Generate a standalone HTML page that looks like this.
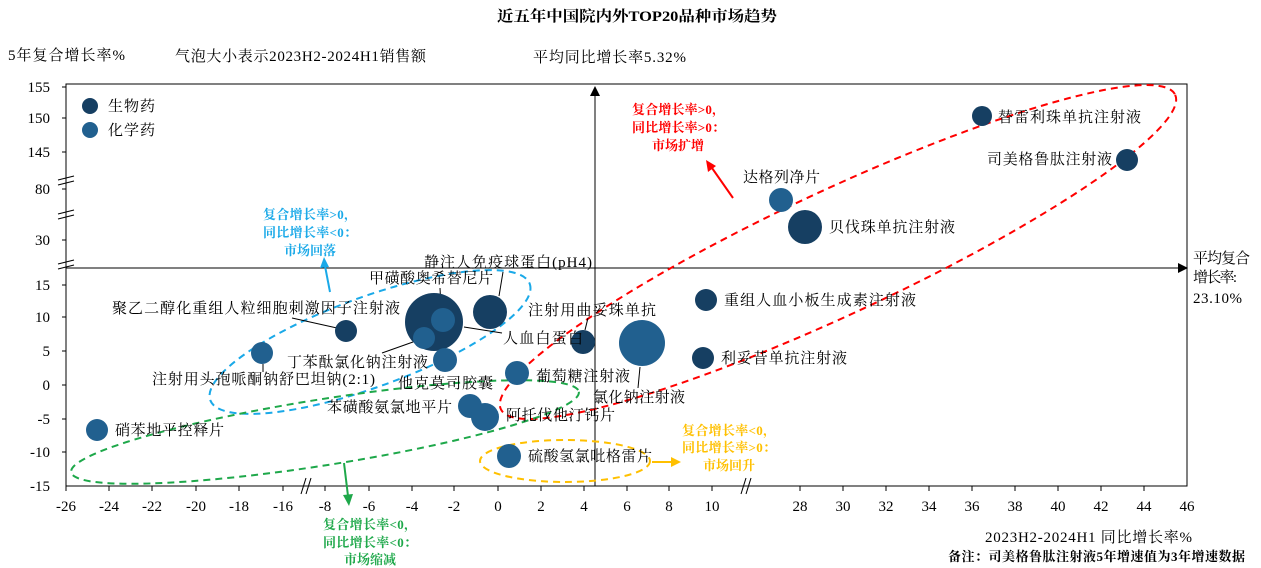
<!DOCTYPE html>
<html><head><meta charset="utf-8"><style>
body{margin:0;background:#fff;}
svg{display:block;font-family:"Liberation Serif","Noto Serif CJK SC",serif;}
.t{font-size:15px;fill:#000;}
.b{font-weight:bold;font-size:13px;}
</style></head><body>
<svg width="1261" height="568" viewBox="0 0 1261 568" xmlns="http://www.w3.org/2000/svg">
<text x="497" y="21" textLength="280" lengthAdjust="spacingAndGlyphs" class="t" font-weight="bold">近五年中国院内外TOP20品种市场趋势</text>
<text x="8" y="60" class="t" textLength="117">5年复合增长率%</text>
<text x="175" y="61" class="t" textLength="251">气泡大小表示2023H2-2024H1销售额</text>
<text x="533" y="62" class="t" textLength="153">平均同比增长率5.32%</text>

<rect x="66" y="84" width="1121" height="402" fill="none" stroke="#000" stroke-width="1"/>
<line x1="595" y1="486" x2="595" y2="94" stroke="#000"/>
<path d="M590,96L595,86L600,96z" fill="#000"/>
<line x1="66" y1="268" x2="1178" y2="268" stroke="#000"/>
<path d="M1178,263L1188,268L1178,273z" fill="#000"/>

<g class="t" text-anchor="end">
<text x="50" y="92">155</text><text x="50" y="123">150</text><text x="50" y="157">145</text>
<text x="50" y="194">80</text><text x="50" y="245">30</text><text x="50" y="290">15</text>
<text x="50" y="322">10</text><text x="50" y="356">5</text><text x="50" y="390">0</text>
<text x="50" y="424">-5</text><text x="50" y="457">-10</text><text x="50" y="491">-15</text>
</g>
<g stroke="#000">
<line x1="62" y1="87" x2="66" y2="87"/><line x1="62" y1="118" x2="66" y2="118"/><line x1="62" y1="152" x2="66" y2="152"/>
<line x1="62" y1="189" x2="66" y2="189"/><line x1="62" y1="240" x2="66" y2="240"/><line x1="62" y1="285" x2="66" y2="285"/>
<line x1="62" y1="317" x2="66" y2="317"/><line x1="62" y1="351" x2="66" y2="351"/><line x1="62" y1="385" x2="66" y2="385"/>
<line x1="62" y1="419" x2="66" y2="419"/><line x1="62" y1="452" x2="66" y2="452"/>
<line x1="58" y1="180" x2="74" y2="176"/><line x1="58" y1="185" x2="74" y2="181"/>
<line x1="58" y1="214" x2="74" y2="210"/><line x1="58" y1="219" x2="74" y2="215"/>
<line x1="58" y1="264" x2="74" y2="260"/><line x1="58" y1="269" x2="74" y2="265"/>
<line x1="741" y1="494" x2="746" y2="478"/><line x1="746" y1="494" x2="751" y2="478"/>
<line x1="301" y1="494" x2="306" y2="478"/><line x1="306" y1="494" x2="311" y2="478"/>
</g>
<g class="t" text-anchor="middle">
<text x="66" y="511">-26</text><text x="109" y="511">-24</text><text x="152" y="511">-22</text><text x="196" y="511">-20</text>
<text x="239" y="511">-18</text><text x="283" y="511">-16</text><text x="325" y="511">-8</text><text x="369" y="511">-6</text>
<text x="412" y="511">-4</text><text x="454" y="511">-2</text><text x="498" y="511">0</text><text x="541" y="511">2</text>
<text x="584" y="511">4</text><text x="627" y="511">6</text><text x="669" y="511">8</text><text x="712" y="511">10</text>
<text x="800" y="511">28</text><text x="843" y="511">30</text><text x="886" y="511">32</text><text x="929" y="511">34</text>
<text x="972" y="511">36</text><text x="1015" y="511">38</text><text x="1058" y="511">40</text><text x="1101" y="511">42</text>
<text x="1144" y="511">44</text><text x="1187" y="511">46</text>
</g>
<g stroke="#000">
<line x1="66" y1="486" x2="66" y2="491"/><line x1="109" y1="486" x2="109" y2="491"/><line x1="152" y1="486" x2="152" y2="491"/><line x1="196" y1="486" x2="196" y2="491"/><line x1="239" y1="486" x2="239" y2="491"/><line x1="283" y1="486" x2="283" y2="491"/><line x1="325" y1="486" x2="325" y2="491"/><line x1="369" y1="486" x2="369" y2="491"/><line x1="412" y1="486" x2="412" y2="491"/><line x1="454" y1="486" x2="454" y2="491"/><line x1="498" y1="486" x2="498" y2="491"/><line x1="541" y1="486" x2="541" y2="491"/><line x1="584" y1="486" x2="584" y2="491"/><line x1="627" y1="486" x2="627" y2="491"/><line x1="669" y1="486" x2="669" y2="491"/><line x1="712" y1="486" x2="712" y2="491"/><line x1="800" y1="486" x2="800" y2="491"/><line x1="843" y1="486" x2="843" y2="491"/><line x1="886" y1="486" x2="886" y2="491"/><line x1="929" y1="486" x2="929" y2="491"/><line x1="972" y1="486" x2="972" y2="491"/><line x1="1015" y1="486" x2="1015" y2="491"/><line x1="1058" y1="486" x2="1058" y2="491"/><line x1="1101" y1="486" x2="1101" y2="491"/><line x1="1144" y1="486" x2="1144" y2="491"/>
</g>

<circle cx="90" cy="106" r="8" fill="#163f62"/><text x="108" y="111" class="t" textLength="47">生物药</text>
<circle cx="90" cy="130" r="8" fill="#21608f"/><text x="108" y="135" class="t" textLength="47">化学药</text>

<ellipse cx="838" cy="252" rx="372" ry="62" transform="rotate(-25 838 252)" fill="none" stroke="#ff0000" stroke-width="2" stroke-dasharray="7,5"/>
<ellipse cx="370" cy="342" rx="170" ry="45" transform="rotate(-20 370 342)" fill="none" stroke="#1aa9e8" stroke-width="2" stroke-dasharray="7,5"/>
<ellipse cx="325" cy="432" rx="257" ry="33" transform="rotate(-9 325 432)" fill="none" stroke="#1ea84a" stroke-width="2" stroke-dasharray="7,5"/>
<ellipse cx="565" cy="461" rx="85" ry="21" fill="none" stroke="#ffc000" stroke-width="2" stroke-dasharray="7,5"/>

<g stroke-width="2">
<line x1="330" y1="292" x2="325" y2="266" stroke="#1aa9e8"/><path d="M320,268L324,257L329,267z" fill="#1aa9e8"/>
<line x1="344" y1="463" x2="348" y2="496" stroke="#1ea84a"/><path d="M343,495L349,506L353,494z" fill="#1ea84a"/>
<line x1="733" y1="198" x2="712" y2="168" stroke="#ff0000"/><path d="M708,172L706,160L716,166z" fill="#ff0000"/>
<line x1="652" y1="462" x2="672" y2="462" stroke="#ffc000"/><path d="M671,457L681,462L671,467z" fill="#ffc000"/>
</g>

<g stroke="#000" stroke-width="1">
<line x1="292" y1="318" x2="337" y2="328"/>
<line x1="382" y1="353" x2="413" y2="342"/>
<line x1="440" y1="288" x2="441" y2="308"/>
<line x1="503" y1="272" x2="499" y2="296"/>
<line x1="464" y1="327" x2="502" y2="333"/>
<line x1="588" y1="318" x2="585" y2="330"/>
<line x1="640" y1="367" x2="638" y2="388"/>
<line x1="263" y1="364" x2="263" y2="372"/>
</g>

<g>
<circle cx="982" cy="116" r="10" fill="#163f62"/>
<circle cx="1127" cy="160" r="11" fill="#163f62"/>
<circle cx="781" cy="200" r="12" fill="#21608f"/>
<circle cx="805" cy="227" r="17" fill="#163f62"/>
<circle cx="706" cy="300" r="11" fill="#163f62"/>
<circle cx="642" cy="343" r="23" fill="#21608f"/>
<circle cx="703" cy="358" r="11" fill="#163f62"/>
<circle cx="583" cy="342" r="12" fill="#163f62"/>
<circle cx="490" cy="312" r="17" fill="#163f62"/>
<circle cx="434" cy="322" r="29" fill="#163f62"/>
<circle cx="443" cy="320" r="12" fill="#21608f"/>
<circle cx="424" cy="338" r="11" fill="#21608f"/>
<circle cx="445" cy="360" r="12" fill="#21608f"/>
<circle cx="346" cy="331" r="11" fill="#163f62"/>
<circle cx="262" cy="353" r="11" fill="#21608f"/>
<circle cx="517" cy="373" r="12" fill="#21608f"/>
<circle cx="470" cy="406" r="12" fill="#21608f"/>
<circle cx="485" cy="417" r="14" fill="#21608f"/>
<circle cx="509" cy="456" r="12" fill="#21608f"/>
<circle cx="97" cy="430" r="11" fill="#21608f"/>
</g>

<g class="t">
<text x="998" y="122" textLength="143">替雷利珠单抗注射液</text>
<text x="987" y="164" textLength="125">司美格鲁肽注射液</text>
<text x="743" y="182" textLength="77">达格列净片</text>
<text x="829" y="232" textLength="126">贝伐珠单抗注射液</text>
<text x="724" y="305" textLength="192">重组人血小板生成素注射液</text>
<text x="721" y="363" textLength="126">利妥昔单抗注射液</text>
<text x="593" y="402" textLength="92">氯化钠注射液</text>
<text x="528" y="315" textLength="128">注射用曲妥珠单抗</text>
<text x="503" y="343" textLength="80">人血白蛋白</text>
<text x="536" y="381" textLength="94">葡萄糖注射液</text>
<text x="398" y="388" textLength="95">他克莫司胶囊</text>
<text x="327" y="412" textLength="125">苯磺酸氨氯地平片</text>
<text x="506" y="420" textLength="109">阿托伐他汀钙片</text>
<text x="528" y="461" textLength="124">硫酸氢氯吡格雷片</text>
<text x="115" y="435" textLength="109">硝苯地平控释片</text>
<text x="152" y="384" textLength="223">注射用头孢哌酮钠舒巴坦钠(2:1)</text>
<text x="287" y="367" textLength="141">丁苯酞氯化钠注射液</text>
<text x="112" y="313" textLength="288">聚乙二醇化重组人粒细胞刺激因子注射液</text>
<text x="369" y="283" textLength="124">甲磺酸奥希替尼片</text>
<text x="424" y="267" textLength="168">静注人免疫球蛋白(pH4)</text>
</g>

<g class="b" fill="#ff0000">
<text x="632" y="114" textLength="93">复合增长率&gt;0，</text><text x="632" y="132" textLength="93">同比增长率&gt;0：</text><text x="678" y="150" text-anchor="middle">市场扩增</text>
</g>
<g class="b" fill="#1aa9e8">
<text x="263" y="219" textLength="94">复合增长率&gt;0，</text><text x="263" y="237" textLength="94">同比增长率&lt;0：</text><text x="310" y="255" text-anchor="middle">市场回落</text>
</g>
<g class="b" fill="#1ea84a">
<text x="323" y="529" textLength="94">复合增长率&lt;0，</text><text x="323" y="547" textLength="94">同比增长率&lt;0：</text><text x="370" y="564" text-anchor="middle">市场缩减</text>
</g>
<g class="b" fill="#ffc000">
<text x="682" y="435" textLength="94">复合增长率&lt;0，</text><text x="682" y="452" textLength="94">同比增长率&gt;0：</text><text x="729" y="470" text-anchor="middle">市场回升</text>
</g>

<g class="t">
<text x="1193" y="263" textLength="57">平均复合</text>
<text x="1193" y="282" textLength="44">增长率:</text>
<text x="1193" y="303" textLength="49">23.10%</text>
<text x="985" y="542" textLength="207">2023H2-2024H1 同比增长率%</text>
</g>
<text x="948" y="561" font-size="13" font-weight="bold" fill="#000" textLength="297">备注：司美格鲁肽注射液5年增速值为3年增速数据</text>
</svg>
</body></html>
